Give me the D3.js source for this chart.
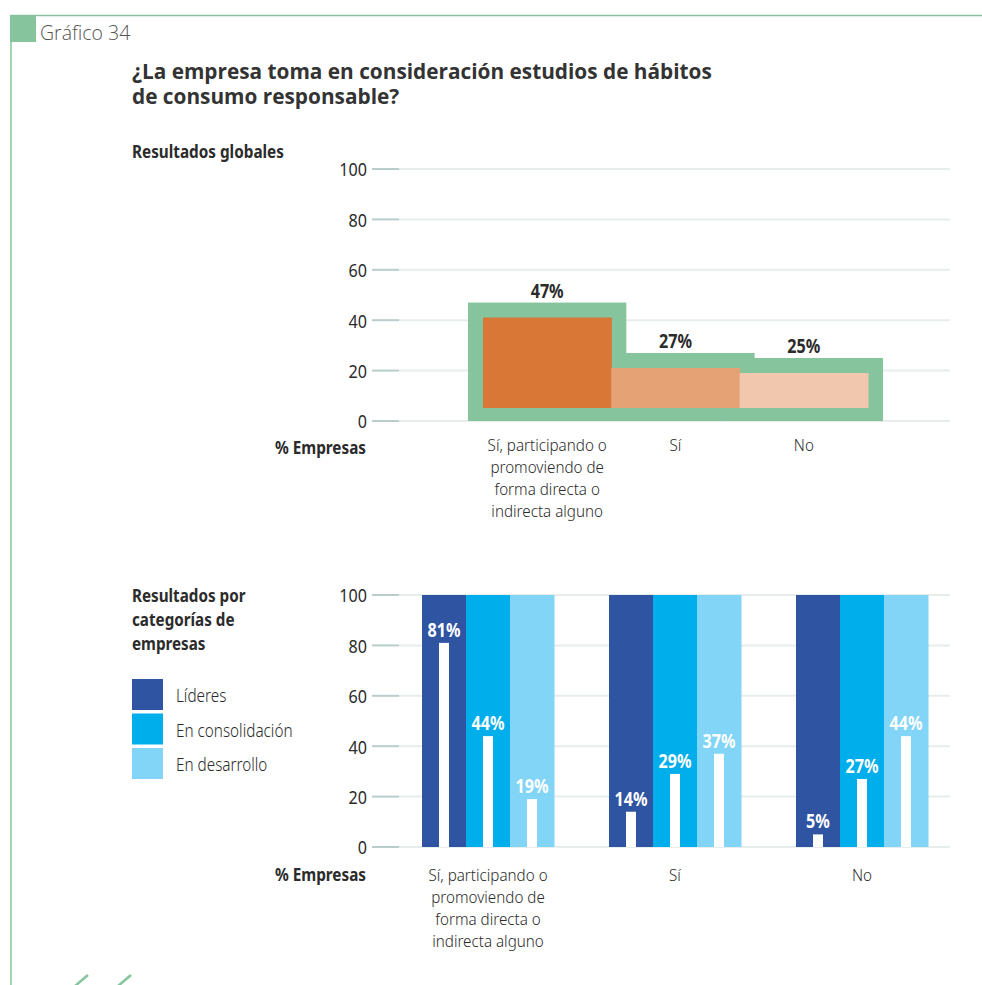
<!DOCTYPE html>
<html lang="es">
<head>
<meta charset="utf-8">
<script src="https://cdn.jsdelivr.net/npm/d3@7"></script>
<style>
  html, body { margin: 0; padding: 0; background: #fff; }
  svg { display: block; }
  .cond { font-family: "Noto Sans", "Open Sans", sans-serif; }
  .head { font-family: "Open Sans", "Noto Sans", sans-serif; }
</style>
</head>
<body>
<svg id="chart" width="982" height="985"></svg>
<script>
// ---- data ----
const categories = ["Sí, participando o promoviendo de forma directa o indirecta alguno", "Sí", "No"];
const categoryLines = [["Sí, participando o", "promoviendo de", "forma directa o", "indirecta alguno"], ["Sí"], ["No"]];
const globalValues = [47, 27, 25];
const segments = ["Líderes", "En consolidación", "En desarrollo"];
const lideresValues = [81, 14, 5];
const consolidacionValues = [44, 29, 27];
const desarrolloValues = [19, 37, 44];
const yTicks = [0, 20, 40, 60, 80, 100];

// ---- styles ----
const green = "#86c49e";
const orangeShades = ["#d97736", "#e5a275", "#f1c7ad"];
const blueShades = ["#2e54a2", "#00aeec", "#82d5f7"];
const textDark = "#2b2b2b";
const narrow = 0.85;          // horizontal squeeze for the condensed labels

const svg = d3.select("#chart");

// condensed text: lines of text anchored at (x, y), squeezed horizontally
function condText(parent, x, y, lines, opt) {
  const o = Object.assign({ size: 17, weight: 300, anchor: "start", fill: textDark, lh: 22, sx: narrow }, opt);
  const g = parent.append("g").attr("transform", `translate(${x},${y}) scale(${o.sx},1)`);
  const t = g.append("text").attr("class", "cond").attr("text-anchor", o.anchor)
    .attr("font-size", o.size).attr("font-weight", o.weight).attr("fill", o.fill);
  [].concat(lines).forEach((s, j) => t.append("tspan").attr("x", 0).attr("y", j * o.lh).text(s));
  return g;
}

// page frame
svg.append("line").attr("x1", 10).attr("x2", 982).attr("y1", 15.5).attr("y2", 15.5)
  .attr("stroke", green).attr("stroke-width", 1.5);
svg.append("line").attr("x1", 11).attr("x2", 11).attr("y1", 15).attr("y2", 985)
  .attr("stroke", green).attr("stroke-width", 1.5);
svg.append("rect").attr("x", 10).attr("y", 15).attr("width", 26).attr("height", 27).attr("fill", green);
svg.append("text").attr("class", "head").attr("x", 40).attr("y", 40)
  .attr("font-size", 19.5).attr("font-weight", 300).attr("fill", "#555").text("Gráfico 34");

// title
const title = svg.append("text").attr("class", "head").attr("x", 132)
  .attr("font-size", 20.8).attr("font-weight", 700).attr("fill", "#333");
title.append("tspan").attr("x", 132).attr("y", 79).text("¿La empresa toma en consideración estudios de hábitos");
title.append("tspan").attr("x", 132).attr("y", 104).text("de consumo responsable?");

// shared y axis / gridlines
function drawYAxis(g, y) {
  const grid = g.append("g");
  grid.selectAll("line.major").data(yTicks).join("line")
    .attr("x1", 399).attr("x2", 950)
    .attr("y1", d => y(d)).attr("y2", d => y(d))
    .attr("stroke", "#e7eded").attr("stroke-width", 2);
  grid.selectAll("line.tick").data(yTicks).join("line")
    .attr("x1", 372).attr("x2", 399)
    .attr("y1", d => y(d)).attr("y2", d => y(d))
    .attr("stroke", "#b9cdcd").attr("stroke-width", 2);
  const axis = g.append("g").attr("transform", "translate(372,0)")
    .call(d3.axisLeft(y).tickValues(yTicks).tickSize(0).tickPadding(6));
  axis.select(".domain").remove();
  axis.selectAll("text").attr("class", "cond").attr("font-size", 19)
    .attr("fill", textDark).attr("dy", "0.36em")
    .attr("transform", `scale(${narrow},1)`);
}

function drawCategoryLabels(g, xCenter, yStart) {
  categories.forEach((c, i) =>
    condText(g, xCenter(c), yStart, categoryLines[i], { anchor: "middle", size: 16, sx: 0.95 }));
}

// ---- global results ----
const globalPanel = svg.append("g");
condText(globalPanel, 132, 158, "Resultados globales", { size: 18, weight: 700 });

const yTop = d3.scaleLinear().domain([0, 100]).range([421, 169]);
drawYAxis(globalPanel, yTop);

const xTop = d3.scaleBand().domain(categories).range([483, 868]).padding(0);
const frame = 15;
const globalData = categories.map((c, i) => ({ c, v: globalValues[i], i }));

globalPanel.selectAll("rect.frame").data(globalData).join("rect")
  .attr("x", d => xTop(d.c) - frame)
  .attr("width", xTop.bandwidth() + frame * 2)
  .attr("y", d => yTop(d.v))
  .attr("height", d => yTop(0) - yTop(d.v))
  .attr("fill", green);
globalPanel.selectAll("rect.bar").data(globalData).join("rect")
  .attr("x", d => xTop(d.c))
  .attr("width", xTop.bandwidth() + 0.5)
  .attr("y", d => yTop(d.v) + frame)
  .attr("height", d => yTop(0) - yTop(d.v) - frame * 2 + 2)
  .attr("fill", d => orangeShades[d.i]);
globalData.forEach(d =>
  condText(globalPanel, xTop(d.c) + xTop.bandwidth() / 2, yTop(d.v) - 5, d.v + "%",
    { anchor: "middle", size: 19, weight: 700 }));

condText(globalPanel, 366, 454, "% Empresas", { anchor: "end", size: 18, weight: 700 });
drawCategoryLabels(globalPanel, c => xTop(c) + xTop.bandwidth() / 2, 451);

// ---- results by company category ----
const catPanel = svg.append("g");
condText(catPanel, 132, 602, ["Resultados por", "categorías de", "empresas"],
  { size: 17.5, weight: 700, lh: 24, sx: 0.87 });

segments.forEach((s, i) => {
  catPanel.append("rect").attr("x", 132).attr("y", 679 + i * 34.5).attr("width", 31).attr("height", 31)
    .attr("fill", blueShades[i]);
  condText(catPanel, 176, 702 + i * 34.5, s, { size: 18 });
});

const yBot = d3.scaleLinear().domain([0, 100]).range([847, 595]);
drawYAxis(catPanel, yBot);

const xGroup = d3.scaleBand().domain(categories).range([422, 928]).paddingInner(55 / 187).paddingOuter(0);
const xSeg = d3.scaleBand().domain(segments).range([0, xGroup.bandwidth()]).padding(0);
const seriesValues = [lideresValues, consolidacionValues, desarrolloValues];
const barData = [];
categories.forEach((c, ci) => segments.forEach((s, si) =>
  barData.push({ c, s, si, v: seriesValues[si][ci] })));

const whiteW = 10;
catPanel.selectAll("rect.bg").data(barData).join("rect")
  .attr("x", d => xGroup(d.c) + xSeg(d.s))
  .attr("width", xSeg.bandwidth() + 0.5)
  .attr("y", yBot(100))
  .attr("height", yBot(0) - yBot(100))
  .attr("fill", d => blueShades[d.si]);
catPanel.selectAll("rect.val").data(barData).join("rect")
  .attr("x", d => xGroup(d.c) + xSeg(d.s) + xSeg.bandwidth() / 2 - whiteW / 2)
  .attr("width", whiteW)
  .attr("y", d => yBot(d.v))
  .attr("height", d => yBot(0) - yBot(d.v))
  .attr("fill", "#fff");
barData.forEach(d =>
  condText(catPanel, xGroup(d.c) + xSeg(d.s) + xSeg.bandwidth() / 2, yBot(d.v) - 6, d.v + "%",
    { anchor: "middle", size: 19, weight: 700, fill: "#fff" }));

condText(catPanel, 366, 881, "% Empresas", { anchor: "end", size: 18, weight: 700 });
drawCategoryLabels(catPanel, c => xGroup(c) + xGroup.bandwidth() / 2, 881);

// footer accent strokes
[[75, 88], [118, 131]].forEach(([a, b]) =>
  svg.append("line").attr("x1", a).attr("y1", 986).attr("x2", b).attr("y2", 975)
    .attr("stroke", green).attr("stroke-width", 2.5));
</script>
</body>
</html>
